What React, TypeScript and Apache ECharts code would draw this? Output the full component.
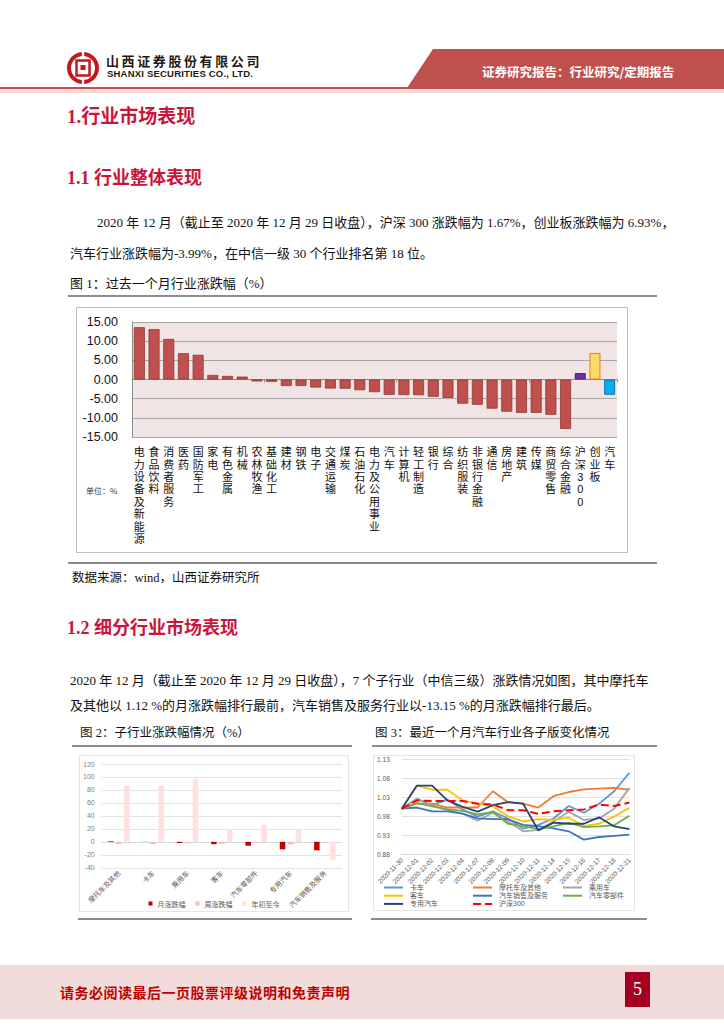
import React, { useEffect, useRef } from "react";
import * as echarts from "echarts";

// ---------- Figure 1 data ----------
const industries = [
  "电力设备及新能源", "食品饮料", "消费者服务", "医药", "国防军工", "家电", "有色金属", "机械",
  "农林牧渔", "基础化工", "建材", "钢铁", "电子", "交通运输", "煤炭", "石油石化", "电力及公用事业",
  "汽车", "计算机", "轻工制造", "银行", "综合", "纺织服装", "非银行金融", "通信", "房地产", "建筑",
  "传媒", "商贸零售", "综合金融", "沪深300", "创业板", "汽车",
];
const industryChange = [
  13.64, 13.14, 10.59, 6.86, 6.44, 1.19, 0.93, 0.76, -0.5, -0.6, -1.7, -1.7, -2.1, -2.35, -2.4,
  -2.8, -3.3, -3.99, -4.05, -4.1, -4.5, -4.8, -6.3, -6.6, -7.6, -8.4, -8.7, -8.7, -9.2, -12.9,
  1.67, 6.93, -3.99,
];
const fig1Ticks = [-15, 15, 5];

// ---------- Figure 2 data ----------
const subIndustries = ["摩托车及其他", "卡车", "乘用车", "客车", "汽车零部件", "专用汽车", "汽车销售及服务"];
const monthChange = [1.12, -0.2, -1.8, -3.7, -6.0, -11.6, -13.15];
const weekChange = [-3.5, -3.5, -2.5, -3.5, -1.5, -4.0, -1.5];
const ytdChange = [86, 86, 96.3, 20, 25.6, 18.6, -27.4];
const fig2SeriesNames = ["月涨跌幅", "周涨跌幅", "年初至今"];

// ---------- Figure 3 data ----------
const dates = [
  "2020-11-30", "2020-12-01", "2020-12-02", "2020-12-03", "2020-12-04", "2020-12-07", "2020-12-08",
  "2020-12-09", "2020-12-10", "2020-12-11", "2020-12-14", "2020-12-15", "2020-12-16", "2020-12-17",
  "2020-12-18", "2020-12-21",
];
const truck = [1.0, 1.026, 1.009, 1.024, 0.998, 0.979, 0.993, 0.974, 0.947, 0.957, 0.974, 1.007, 0.989, 1.013, 1.046, 1.095];
const motorcycle = [1.0, 1.013, 1.013, 1.003, 1.003, 1.003, 1.046, 1.017, 1.013, 1.003, 1.033, 1.044, 1.051, 1.053, 1.055, 1.05];
const passengerCar = [1.0, 1.026, 1.009, 0.996, 0.987, 0.968, 0.989, 0.966, 0.94, 0.944, 0.966, 0.992, 0.97, 0.974, 1.0, 1.055];
const bus = [1.0, 1.061, 1.05, 1.05, 1.022, 1.013, 1.006, 0.98, 0.966, 0.972, 0.97, 0.976, 0.954, 0.96, 0.979, 1.002];
const autoSales = [1.0, 1.003, 0.993, 0.993, 0.987, 0.974, 0.972, 0.972, 0.957, 0.954, 0.948, 0.94, 0.918, 0.925, 0.928, 0.931];
const autoParts = [1.0, 1.015, 1.006, 0.998, 0.994, 0.985, 0.991, 0.96, 0.954, 0.946, 0.953, 0.963, 0.951, 0.953, 0.956, 0.981];
const specialVehicle = [1.0, 1.061, 1.061, 1.022, 1.005, 0.992, 1.009, 1.017, 1.013, 0.942, 0.963, 0.96, 0.96, 0.977, 0.953, 0.946];
const hs300 = [1.0, 1.022, 1.02, 1.02, 1.02, 1.013, 1.011, 0.996, 0.996, 0.986, 0.993, 0.996, 0.998, 1.011, 1.007, 1.016];
const fig3Names = ["卡车", "摩托车及其他", "乘用车", "客车", "汽车销售及服务", "汽车零部件", "专用汽车", "沪深300"];
const fig3Values = [truck, motorcycle, passengerCar, bus, autoSales, autoParts, specialVehicle, hs300];

const CJK = '"Noto Sans CJK SC", "Noto Sans", sans-serif';
const LAT_CJK = '"Liberation Sans", "Noto Sans CJK SC", sans-serif';
const SERIF = '"Liberation Serif", "Noto Sans CJK SC", serif';
const RED = "#C8163B";

function T(props: { x: number; y: number; size: number; children: any; style?: any }) {
  const { x, y, size, children, style } = props;
  return (
    <div
      style={{
        position: "absolute",
        left: x,
        top: y - size / 2,
        fontSize: size,
        lineHeight: `${size}px`,
        whiteSpace: "nowrap",
        fontFamily: SERIF,
        color: "#111",
        ...style,
      }}
    >
      {children}
    </div>
  );
}

function Line(props: { x1: number; x2: number; y: number; color?: string; h?: number }) {
  return (
    <div
      style={{
        position: "absolute",
        left: props.x1,
        top: props.y,
        width: props.x2 - props.x1,
        height: props.h ?? 2,
        background: props.color ?? "#8C8C8C",
      }}
    />
  );
}

export default function App() {
  const r1 = useRef<HTMLDivElement>(null);
  const r2 = useRef<HTMLDivElement>(null);
  const r3 = useRef<HTMLDivElement>(null);

  useEffect(() => {
    const c1 = echarts.init(r1.current!, null, { renderer: "svg" });
    const c2 = echarts.init(r2.current!, null, { renderer: "svg" });
    const c3 = echarts.init(r3.current!, null, { renderer: "svg" });

    const special: Record<number, { color: string; borderColor: string }> = {
      30: { color: "#7030A0", borderColor: "#4B1F6F" },
      31: { color: "#FFD966", borderColor: "#D9822B" },
      32: { color: "#00B0F0", borderColor: "#1F6FA8" },
    };

    c1.setOption({
      animation: false,
      grid: {
        left: 55, right: 10, top: 14, bottom: 115,
        show: true, backgroundColor: "#F1E4E4", borderWidth: 0,
      },
      xAxis: [
        {
          type: "category",
          data: industries,
          position: "bottom",
          axisLine: { show: false, onZero: false },
          axisTick: { show: false },
          axisLabel: {
            interval: 0,
            margin: 9,
            fontSize: 11,
            lineHeight: 12.4,
            color: "#111",
            fontFamily: LAT_CJK,
            verticalAlign: "top",
            formatter: (v: string) => v.split("").join("\n"),
          },
        },
        {
          type: "category",
          data: industries,
          position: "top",
          axisLine: { show: true, onZero: true, lineStyle: { color: "#8C8C8C", width: 1 } },
          axisTick: { show: true, inside: true, length: 3, lineStyle: { color: "#8C8C8C" } },
          axisLabel: { show: false },
        },
      ],
      yAxis: {
        type: "value",
        min: fig1Ticks[0],
        max: fig1Ticks[1],
        interval: fig1Ticks[2],
        axisLine: { show: true, lineStyle: { color: "#8C8C8C" } },
        axisTick: { show: false },
        splitLine: { lineStyle: { color: "#A6A6A6", width: 1 } },
        axisLabel: {
          fontSize: 12.5,
          color: "#111",
          margin: 14,
          fontFamily: '"Liberation Sans", Arial, sans-serif',
          formatter: (v: number) => v.toFixed(2),
        },
      },
      graphic: [
        {
          type: "text",
          left: 9,
          top: 178,
          style: { text: "单位：%", fontSize: 8, fill: "#333", fontFamily: CJK },
        },
      ],
      series: [
        {
          type: "bar",
          xAxisIndex: 0,
          barWidth: 11,
          data: industryChange.map((v, i) => ({
            value: v,
            itemStyle: special[i]
              ? { color: special[i].color, borderColor: special[i].borderColor, borderWidth: 1 }
              : { color: "#C0504D", borderColor: "#8C3836", borderWidth: 0.8 },
          })),
        },
      ],
    });

    c2.setOption({
      animation: false,
      grid: { left: 21, right: 6, top: 8, bottom: 35 },
      legend: {
        top: 139,
        left: "center",
        icon: "rect",
        itemWidth: 4,
        itemHeight: 4,
        itemGap: 10,
        textStyle: { fontSize: 7, color: "#595959", fontFamily: CJK },
        data: fig2SeriesNames,
      },
      xAxis: {
        type: "category",
        data: subIndustries,
        axisLine: { onZero: true, lineStyle: { color: "#D9D9D9" } },
        axisTick: { show: false },
        axisLabel: { interval: 0, rotate: 45, fontSize: 7, color: "#595959", margin: 4, fontFamily: CJK },
      },
      yAxis: {
        type: "value",
        min: -40,
        max: 120,
        interval: 20,
        axisLine: { show: false },
        axisTick: { show: false },
        splitLine: { lineStyle: { color: "#E3E3E3" } },
        axisLabel: { fontSize: 7, color: "#7F7F7F", margin: 7 },
      },
      series: [
        { name: fig2SeriesNames[0], type: "bar", data: monthChange, barWidth: 5.5, barGap: "45%", itemStyle: { color: "#C00000" } },
        { name: fig2SeriesNames[1], type: "bar", data: weekChange, barWidth: 5.5, barGap: "45%", itemStyle: { color: "#F8BDBD" } },
        { name: fig2SeriesNames[2], type: "bar", data: ytdChange, barWidth: 5.5, barGap: "45%", itemStyle: { color: "#FDE0E0" } },
      ],
    });

    const lineColors = ["#5B9BD5", "#ED7D31", "#A5A5A5", "#FFC000", "#4472C4", "#70AD47", "#264478", "#FF0000"];
    // legend grid: 3 columns x 3 rows (row-major order of fig3Names)
    const legendCols = [9, 98, 188];
    const legendRows = [128, 136.2, 144.4];
    c3.setOption({
      animation: false,
      color: lineColors,
      grid: { left: 26, right: 2, top: 3, bottom: 56 },
      legend: fig3Names.map((n, i) => ({
        left: legendCols[i % 3],
        top: legendRows[Math.floor(i / 3)],
        itemWidth: 19,
        itemHeight: 6,
        padding: 0,
        itemStyle: { opacity: 0 },
        textStyle: { fontSize: 7, color: "#595959", fontFamily: LAT_CJK, padding: [0, 0, 0, 2] },
        data: [n],
      })),
      xAxis: {
        type: "category",
        data: dates,
        boundaryGap: false,
        axisLine: { lineStyle: { color: "#D9D9D9" } },
        axisTick: { show: false },
        axisLabel: { interval: 0, rotate: 45, fontSize: 6.5, color: "#595959", margin: 5 },
      },
      yAxis: {
        type: "value",
        min: 0.88,
        max: 1.13,
        interval: 0.05,
        axisLine: { show: false },
        axisTick: { show: false },
        splitLine: { lineStyle: { color: "#E0E0E0" } },
        axisLabel: { fontSize: 6.5, color: "#595959", margin: 12, formatter: (v: number) => v.toFixed(2) },
      },
      series: fig3Names.map((n, i) => ({
        name: n,
        type: "line",
        data: fig3Values[i],
        symbol: "none",
        lineStyle: {
          width: i === 7 ? 2 : 1.8,
          type: i === 7 ? "dashed" : "solid",
          color: lineColors[i],
        },
        itemStyle: { color: lineColors[i] },
        z: i === 7 ? 10 : 2,
      })),
    });

    return () => {
      c1.dispose();
      c2.dispose();
      c3.dispose();
    };
  }, []);

  return (
    <div
      style={{
        position: "absolute",
        left: 0,
        top: 0,
        width: 724,
        height: 1024,
        background: "#fff",
        overflow: "hidden",
      }}
    >
      {/* Header */}
      <svg style={{ position: "absolute", left: 66, top: 51 }} width={34} height={34} viewBox="0 0 34 34">
        <circle cx={17} cy={17} r={14} fill="none" stroke="#C8161D" strokeWidth={4} />
        <rect x={10.5} y={9.5} width={13} height={15} fill="none" stroke="#C8161D" strokeWidth={2.5} />
        <rect x={14.5} y={14} width={5} height={5} fill="#C8161D" />
        <rect x={15.8} y={0} width={2.4} height={5} fill="#fff" />
        <rect x={15.8} y={29} width={2.4} height={5} fill="#fff" />
      </svg>
      <T x={106} y={60} size={13} style={{ fontFamily: CJK, fontWeight: 700, letterSpacing: 2.6, color: "#231815" }}>
        山西证券股份有限公司
      </T>
      <T x={107} y={74} size={9.5} style={{ fontFamily: '"Liberation Sans", Arial, sans-serif', fontWeight: 700, color: "#231815", letterSpacing: 0.2 }}>
        SHANXI SECURITIES CO., LTD.
      </T>
      <div
        style={{
          position: "absolute",
          left: 407,
          top: 49,
          width: 317,
          height: 39,
          background: "#C0504D",
          clipPath: "polygon(26px 0, 100% 0, 100% 100%, 0 100%)",
        }}
      />
      <T x={482} y={72} size={12.5} style={{ fontFamily: CJK, fontWeight: 700, color: "#fff" }}>
        证券研究报告：行业研究/定期报告
      </T>
      <Line x1={0} x2={724} y={87} h={2} color="#C0504D" />
      <Line x1={0} x2={724} y={89} h={4} color="#F3DADA" />

      {/* Section 1 */}
      <T x={67} y={116} size={19} style={{ fontWeight: 700, color: RED }}>1.行业市场表现</T>
      <T x={67} y={178} size={18} style={{ fontWeight: 700, color: RED }}>1.1 行业整体表现</T>
      <T x={97} y={222} size={13} style={{ width: 558, textAlignLast: "justify", textAlign: "justify" }}>
        2020 年 12 月（截止至 2020 年 12 月 29 日收盘），沪深 300 涨跌幅为 1.67%，创业板涨跌幅为 6.93%，
      </T>
      <T x={70} y={253} size={13}>汽车行业涨跌幅为-3.99%，在中信一级 30 个行业排名第 18 位。</T>
      <T x={70} y={283} size={13}>图 1：过去一个月行业涨跌幅（%）</T>
      <Line x1={68} x2={657} y={295} />
      <div
        ref={r1}
        style={{
          position: "absolute",
          left: 76,
          top: 307,
          width: 552,
          height: 246,
          boxSizing: "border-box",
          border: "1px solid #BFBFBF",
        }}
      />
      <Line x1={68} x2={657} y={562} />
      <T x={72} y={578} size={12.5}>数据来源：wind，山西证券研究所</T>

      {/* Section 1.2 */}
      <T x={67} y={628} size={18} style={{ fontWeight: 700, color: RED }}>1.2 细分行业市场表现</T>
      <T x={70} y={680} size={13} style={{ width: 578, textAlignLast: "justify", textAlign: "justify" }}>
        2020 年 12 月（截止至 2020 年 12 月 29 日收盘），7 个子行业（中信三级）涨跌情况如图，其中摩托车
      </T>
      <T x={70} y={705} size={13}>及其他以 1.12 %的月涨跌幅排行最前，汽车销售及服务行业以-13.15 %的月涨跌幅排行最后。</T>

      <T x={80} y={733} size={12.5}>图 2：子行业涨跌幅情况（%）</T>
      <T x={375} y={733} size={12.5}>图 3：最近一个月汽车行业各子版变化情况</T>
      <Line x1={72} x2={352} y={745} />
      <Line x1={372} x2={657} y={745} />
      <div
        ref={r2}
        style={{
          position: "absolute",
          left: 79,
          top: 755,
          width: 270,
          height: 157,
          boxSizing: "border-box",
          border: "1px solid #E6E6E6",
        }}
      />
      <div
        ref={r3}
        style={{
          position: "absolute",
          left: 373,
          top: 755,
          width: 262,
          height: 156,
          boxSizing: "border-box",
          border: "1px solid #E6E6E6",
        }}
      />
      <Line x1={78} x2={352} y={918} />
      <Line x1={371} x2={647} y={918} />

      {/* Footer */}
      <div style={{ position: "absolute", left: 0, top: 965, width: 724, height: 54, background: "#F2DCDB" }} />
      <T x={60} y={992} size={14} style={{ fontFamily: CJK, fontWeight: 700, color: "#C00000", letterSpacing: 0.5 }}>
        请务必阅读最后一页股票评级说明和免责声明
      </T>
      <div
        style={{
          position: "absolute",
          left: 625,
          top: 972,
          width: 25,
          height: 35,
          background: "#A50021",
          color: "#fff",
          fontFamily: SERIF,
          fontSize: 18,
          lineHeight: "35px",
          textAlign: "center",
        }}
      >
        5
      </div>
    </div>
  );
}
